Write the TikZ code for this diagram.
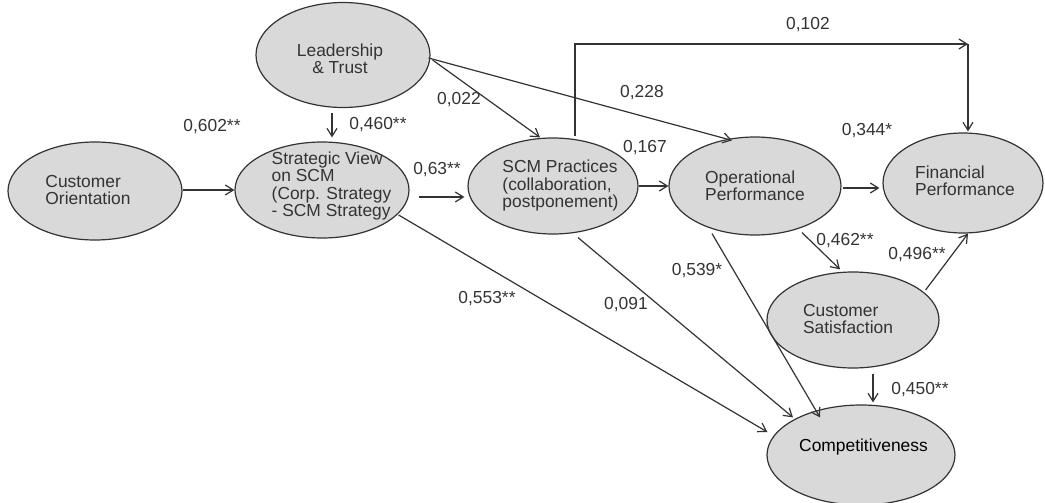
\documentclass[tikz,border=0pt]{standalone}
\usepackage{fontspec}
\setmainfont{Liberation Sans}
\usetikzlibrary{shapes.geometric,arrows.meta,calc}
\definecolor{ink}{HTML}{333333}
\definecolor{bubble}{HTML}{D9D9D9}
\tikzset{
  construct/.style={ellipse,draw=ink,line width=1.2pt,fill=bubble,inner sep=0pt},
  txt/.style={font=\fontsize{17.4}{17.5}\selectfont,text=ink,inner sep=0pt,align=left},
  coef/.style={font=\fontsize{17.4}{17.5}\selectfont,text=ink,inner sep=0pt},
  path/.style={draw=ink,line width=1.2pt,-{Straight Barb[length=8pt,width=10pt]}}
}
\begin{document}
\begin{tikzpicture}[x=1pt,y=-1pt]
\useasboundingbox (0,0) rectangle (1045,503);

% latent constructs
\node[construct,minimum width=174pt,minimum height=98pt]  (co)  at (95,191)  {};
\node[construct,minimum width=174pt,minimum height=105pt] (lt)  at (343,55)  {};
\node[construct,minimum width=174pt,minimum height=96pt]  (sv)  at (322,190) {};
\node[construct,minimum width=170pt,minimum height=96pt]  (scm) at (553,186) {};
\node[construct,minimum width=172pt,minimum height=98pt]  (op)  at (755,186) {};
\node[construct,minimum width=160pt,minimum height=100pt] (fp)  at (963,183) {};
\node[construct,minimum width=172pt,minimum height=96pt]  (cs)  at (853,320) {};
\node[construct,minimum width=188pt,minimum height=100pt] (cp)  at (861,455) {};

% construct names
\node[txt] (co-t)  at (88,190)    {Customer\\Orientation};
\node[txt,align=center] (lt-t) at (340,59) {Leadership\\\& Trust};
\node[txt] (sv-t)  at (331.5,186) {Strategic View\\on SCM\\(Corp. Strategy\\- SCM Strategy};
\node[txt] (scm-t) at (560.5,186) {SCM Practices\\(collaboration,\\postponement)};
\node[txt] (op-t)  at (755,186)   {Operational\\Performance};
\node[txt] (fp-t)  at (965,181)   {Financial\\Performance};
\node[txt] (cs-t)  at (848,319)   {Customer\\Satisfaction};
\node[txt,text=black] (cp-t) at (863.5,447) {Competitiveness};

% structural paths
\coordinate (corner) at (968,44);
\draw[path] ($(co.east)+(0,-1)$) -- (sv.west);
\draw[path] ($(lt.south)+(-11,5)$) -- ($(sv.north)+(10,-4)$);
\draw[path] ($(sv.east)+(9,7)$) -- ($(scm.west)+(-3,11)$);
\draw[path] ($(lt.east)+(2,5)$) -- ($(scm.north)+(-13,0)$);
\draw[path] ($(lt.east)+(-2,3)$) -- ($(op.north)+(-23,4)$);
\draw[path] ($(scm.north)+(22,-1)$) |- (corner);
\draw[path] (corner) -- ($(fp.north)+(5,-1)$);
\draw[path] (scm.east) -- (op.west);
\draw[path] ($(op.east)+(1,2)$) -- ($(fp.west)+(-3,5)$);
\draw[path] ($(op.south)+(47,-3)$) -- ($(cs.north)+(-13,-2)$);
\draw[path] ($(cs.east)+(-14,-30)$) -- ($(fp.south)+(5,0)$);
\draw[path] ($(cs.south)+(20,5)$) -- ($(cp.north)+(12,-2)$);
\draw[path] ($(sv.east)+(-11,25)$) -- ($(cp.west)+(1,-23)$);
\draw[path] ($(scm.south)+(25,3)$) -- ($(cp.north)+(-68,13)$);
\draw[path] ($(op.south)+(-43,-2)$) -- ($(cp.north)+(-41,13)$);

% path coefficients
\node[coef] (c602) at (212,127) {0,602**};
\node[coef] (c460) at (378,125) {0,460**};
\node[coef] (c63)  at (437,170) {0,63**};
\node[coef] (c022) at (459,100) {0,022};
\node[coef] (c228) at (642,93)  {0,228};
\node[coef] (c102) at (808,25)  {0,102};
\node[coef] (c167) at (645,148) {0,167};
\node[coef] (c344) at (867,131) {0,344*};
\node[coef] (c462) at (845,241) {0,462**};
\node[coef] (c496) at (917,255) {0,496**};
\node[coef] (c450) at (920,390) {0,450**};
\node[coef] (c553) at (487,299) {0,553**};
\node[coef] (c091) at (626,305) {0,091};
\node[coef] (c539) at (697,271) {0,539*};
\end{tikzpicture}
\end{document}
